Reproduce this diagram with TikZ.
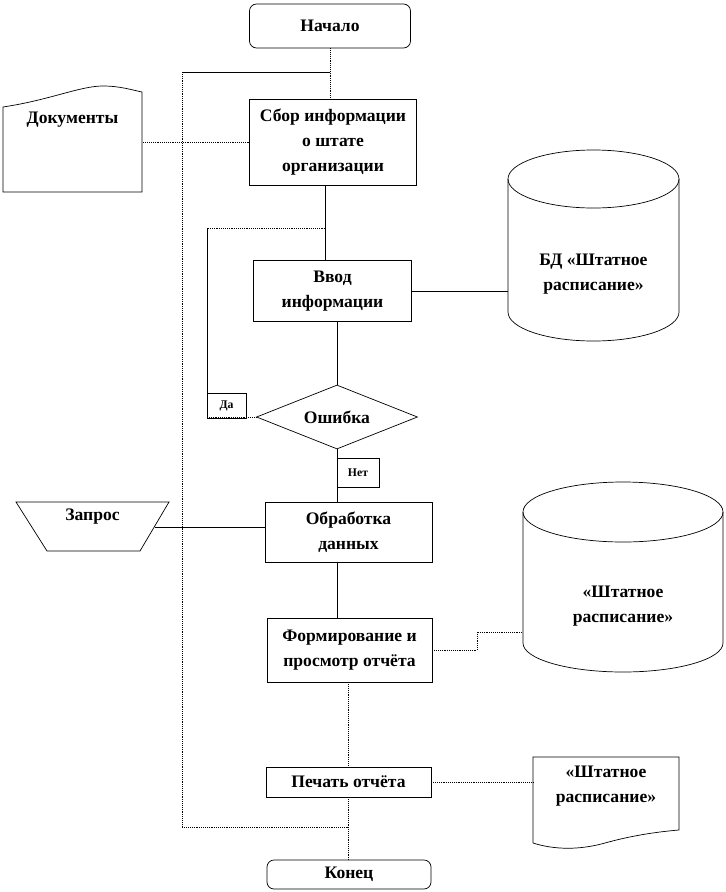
\documentclass[tikz,border=0pt]{standalone}
\usepackage{fontspec}
\setmainfont{Liberation Serif}
\usetikzlibrary{shapes.geometric}

\begin{document}
\begin{tikzpicture}[x=0.03cm,y=-0.03cm,line width=0.6pt,
  every node/.style={font=\bfseries\fontsize{15}{21}\selectfont,align=center,inner sep=0pt},
  box/.style args={#1/#2}{draw,minimum width=#1cm,minimum height=#2cm},
  term/.style args={#1/#2}{box=#1/#2,rounded corners=6pt},
  tag/.style args={#1/#2}{box=#1/#2,font=\bfseries\fontsize{10}{12}\selectfont},
  dl/.style={densely dotted}]
  \useasboundingbox (0,0) rectangle (726,892);
  % main column
  \node[term=4.83/1.32] (start) at (330,26) {Начало};
  \node[box=5.01/2.58] (collect) at (333,142) {Сбор информации\\о штате\\организации};
  \node[box=4.74/1.83] (input) at (332.5,291) {Ввод\\информации};
  \node[draw,diamond,aspect=3,minimum width=4.83cm,minimum height=1.92cm] (err) at (337,417) {Ошибка};
  \node[box=5.01/1.80] (proc) at (348.5,532) {Обработка\\данных};
  \node[box=4.95/1.92] (report) at (349.5,650) {Формирование и\\просмотр отчёта};
  \node[box=4.95/0.90] (print) at (348.5,782) {Печать отчёта};
  \node[term=4.92/0.87] (end) at (349,874.5) {Конец};
  \node[tag=1.17/0.75] (yes) at (226.5,405.5) {Да};
  \node[tag=1.26/0.87] (no) at (358,472.5) {Нет};
  % side shapes
  \draw (3,192) -- (3,107) .. controls (50,100) and (80,86) .. (103,86)
    .. controls (120,86) and (132,90) .. (142,92) -- (142,192) -- cycle;
  \node[minimum width=4.17cm] (docs) at (72.5,120) {Документы};
  \draw (16,502) -- (169,502) -- (140,551) -- (47,551) -- cycle;
  \node (query) at (92.5,517) {Запрос};
  \coordinate (qe) at (155,527);
  \draw (508,179) -- (508,312) arc[start angle=180,end angle=360,x radius=2.565cm,y radius=0.87cm] -- (679,179);
  \draw (593.5,179) ellipse[x radius=2.565cm,y radius=0.87cm];
  \node[minimum width=5.13cm] (db1) at (593.5,274) {БД «Штатное\\расписание»};
  \draw (523,512) -- (523,643) arc[start angle=180,end angle=360,x radius=3cm,y radius=0.87cm] -- (723,512);
  \draw (623,512) ellipse[x radius=3cm,y radius=0.9cm];
  \node[minimum width=6cm] (db2) at (623,606) {«Штатное\\расписание»};
  \draw (533,843) -- (533,757) -- (679,757) -- (679,830) .. controls (655,832) and (630,836) .. (605,843)
    .. controls (580,850) and (555,850) .. (533,843);
  \node[minimum width=4.38cm] (out) at (606,786) {«Штатное\\расписание»};
  % connectors
  \coordinate (j1) at (330,72);
  \coordinate (lt) at (182,72);
  \coordinate (lb) at (182,827);
  \coordinate (c1) at (325,228);
  \coordinate (dt) at (207,228);
  \coordinate (k2) at (477,632);
  \draw[dl] (start.south) -- (start.south |- collect.north);
  \draw (j1) -- (lt);
  \draw[dl] (lt) -- (lb) -- (lb -| print.south);
  \draw[dl] (collect.west) -- (collect.west -| docs.east);
  \draw (c1 |- collect.south) -- (c1 |- input.north);
  \draw[dl] (c1) -- (dt);
  \draw (dt) -- (dt |- err.west);
  \draw[dl] (dt |- err.west) -- (err.west);
  \draw (input.east) -- (input.east -| db1.west);
  \draw (input.south -| err.north) -- (err.north);
  \draw (err.south) -- (err.south |- proc.north);
  \draw (qe) -- (qe -| proc.west);
  \draw (proc.south -| err.south) -- (report.north -| err.south);
  \draw[dl] (report.east) -| (k2) -- (k2 -| db2.west);
  \draw[dl] (report.south -| print.north) -- (print.north);
  \draw[dl] (print.east) -- (print.east -| out.west);
  \draw[dl] (print.south) -- (print.south |- end.north);
\end{tikzpicture}
\end{document}
